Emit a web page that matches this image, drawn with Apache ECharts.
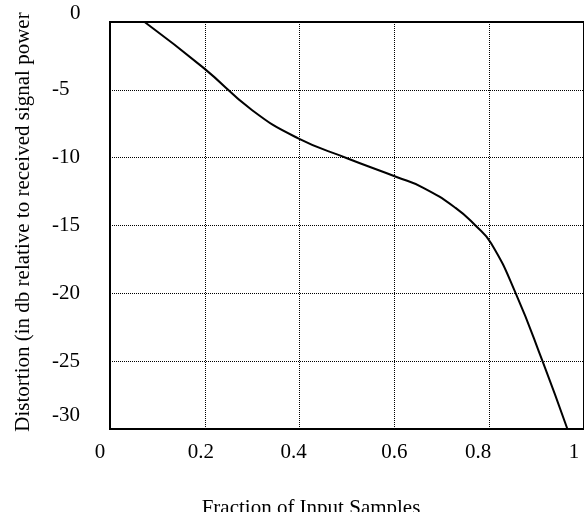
<!DOCTYPE html>
<html lang="en">
<head>
    <meta charset="UTF-8">
    <title>Distortion vs fraction of input samples</title>
    <script src="https://cdn.jsdelivr.net/npm/echarts@6/dist/echarts.min.js"></script>
    <style>
        html, body { margin: 0; padding: 0; background: #fff; }
        #chart { width: 584px; height: 512px; }
    </style>
</head>
<body>
    <div id="chart"></div>
    <script type="text/javascript">
        // data
        var fraction = [0.073, 0.198, 0.3, 0.396, 0.5, 0.606, 0.66, 0.729, 0.771, 0.804, 0.856, 0.9125, 0.965];
        var distortion = [0, -3.4, -6.5, -8.56, -10.04, -11.44, -12.2, -13.7, -15.0, -16.3, -20, -25, -30];
        var xTicks = [0, 0.2, 0.4, 0.6, 0.8, 1];
        var yTicks = [0, -5, -10, -15, -20, -25, -30];

        var points = fraction.map(function (f, i) { return [f, distortion[i]]; });

        // small nudges so tick labels sit where the original put them
        var xShift = [10, 4, 6, 0, 11, 10];
        var xRich = {};
        xShift.forEach(function (s, i) {
            xRich['x' + i] = { padding: [0, 2 * s, 0, 0] };
        });

        var font = 'Liberation Serif';
        var chart = echarts.init(document.getElementById('chart'));
        var option = {
            backgroundColor: '#fff',
            animation: false,
            grid: {
                left: 110, top: 22, right: -6, bottom: 83,
                show: true, borderColor: '#000', borderWidth: 2
            },
            xAxis: {
                type: 'value', min: 0, max: 1, interval: 0.2,
                axisLine: { show: false },
                axisTick: { show: false },
                splitLine: { show: true, lineStyle: { color: '#000', type: 'dotted', width: 1 } },
                axisLabel: {
                    margin: 13,
                    showMaxLabel: true,
                    fontFamily: font, fontSize: 21, color: '#000',
                    formatter: function (v) {
                        var i = xTicks.indexOf(Math.round(v * 10) / 10);
                        return '{x' + i + '|' + v + '}';
                    },
                    rich: xRich
                }
            },
            yAxis: {
                type: 'value', min: -30, max: 0, interval: 5,
                axisLine: { show: false },
                axisTick: { show: false },
                splitLine: { show: true, lineStyle: { color: '#000', type: 'dotted', width: 1 } },
                axisLabel: {
                    margin: 58, align: 'left',
                    fontFamily: font, fontSize: 21, color: '#000',
                    formatter: function (v) {
                        if (v === yTicks[0]) return '{top|' + v + '}';
                        if (v === yTicks[yTicks.length - 1]) return '{bot|' + v + '}';
                        return v;
                    },
                    rich: {
                        top: { padding: [0, 0, 18, 18] },
                        bot: { padding: [0, 0, 28, 0] }
                    }
                }
            },
            graphic: [
                {
                    type: 'text', x: 23, y: 222, rotation: Math.PI / 2,
                    style: {
                        text: 'Distortion (in db relative to received signal power',
                        font: '21px "Liberation Serif"', fill: '#000',
                        textAlign: 'center', textVerticalAlign: 'middle'
                    }
                },
                {
                    type: 'text', x: 311, y: 508,
                    style: {
                        text: 'Fraction of Input Samples',
                        font: '21px "Liberation Serif"', fill: '#000',
                        textAlign: 'center', textVerticalAlign: 'middle'
                    }
                }
            ],
            series: [
                {
                    type: 'line',
                    data: points,
                    smooth: 0.5,
                    showSymbol: false,
                    lineStyle: { color: '#000', width: 2 }
                }
            ]
        };
        chart.setOption(option);
    </script>
</body>
</html>
